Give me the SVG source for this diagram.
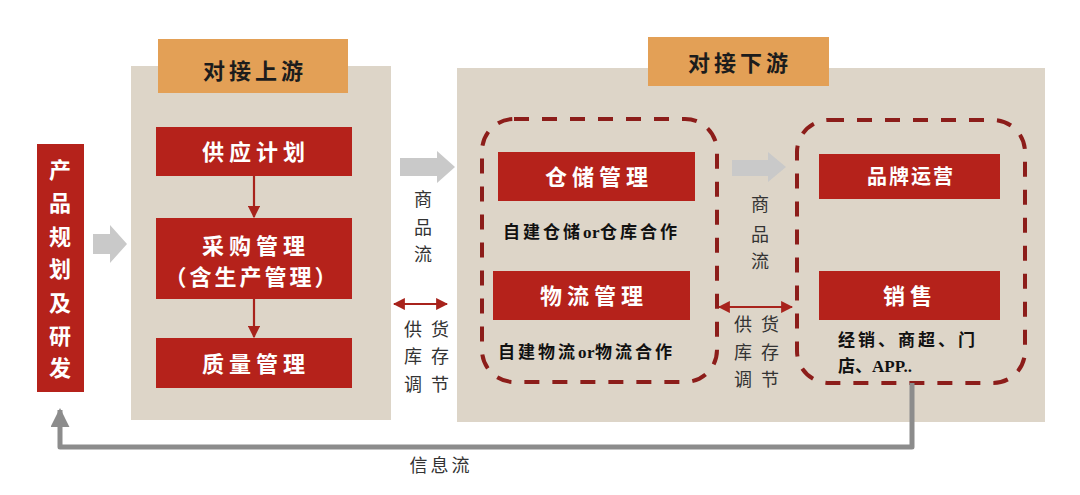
<svg xmlns="http://www.w3.org/2000/svg" width="1080" height="495" viewBox="0 0 1080 495">
  <defs>
    <style>
      .panel { fill: #ddd5c8; }
      .tag { fill: #e3a056; }
      .red { fill: #b5221b; }
      .dash { fill: none; stroke: #8c1d1a; stroke-width: 4; stroke-dasharray: 15 13; }
      .gray-arrow { fill: #c9c9c9; }
      .tagtxt { font-family: "Liberation Serif", "Noto Sans CJK SC", serif; font-weight: bold; font-size: 22px; fill: #1c1c1c; text-anchor: middle; dominant-baseline: central; letter-spacing: 4px; }
      .wtxt { font-family: "Liberation Serif", "Noto Sans CJK SC", serif; font-weight: bold; font-size: 22px; fill: #ffffff; text-anchor: middle; dominant-baseline: central; letter-spacing: 5px; }
      .btxt { font-family: "Liberation Serif", "Noto Sans CJK SC", serif; font-weight: bold; font-size: 17px; fill: #111111; dominant-baseline: central; }
      .ltxt { font-family: "Liberation Serif", "Noto Sans CJK SC", serif; font-size: 18px; fill: #333333; text-anchor: middle; dominant-baseline: central; }
      .tight { letter-spacing: 0.5px; }
    </style>
    <marker id="redhead" viewBox="0 0 10 10" refX="9" refY="5" markerWidth="5.5" markerHeight="5.5" orient="auto-start-reverse" markerUnits="strokeWidth">
      <path d="M0,0 L10,5 L0,10 Z" fill="#a8231c"/>
    </marker>
    <marker id="grayhead" viewBox="0 0 10 10" refX="9" refY="5" markerWidth="3.8" markerHeight="3.8" orient="auto" markerUnits="strokeWidth">
      <path d="M0,0 L10,5 L0,10 Z" fill="#8c8c8c"/>
    </marker>
  </defs>

  <rect x="0" y="0" width="1080" height="495" fill="#ffffff"/>

  <!-- panels -->
  <g id="panel-upstream">
    <rect class="panel" x="131" y="66" width="260" height="354"/>
    <rect class="tag" x="158" y="39" width="190" height="54"/>
    <text class="tagtxt" x="255" y="71">对接上游</text>
  </g>
  <g id="panel-downstream">
    <rect class="panel" x="457" y="68" width="588" height="354"/>
    <rect class="tag" x="648" y="37" width="181" height="49"/>
    <text class="tagtxt" x="740" y="63">对接下游</text>
  </g>

  <!-- product planning -->
  <g id="node-product">
    <rect class="red" x="37" y="144" width="47" height="248"/>
    <text class="wtxt" x="60" y="170" style="letter-spacing:0">产</text>
    <text class="wtxt" x="60" y="203" style="letter-spacing:0">品</text>
    <text class="wtxt" x="60" y="237" style="letter-spacing:0">规</text>
    <text class="wtxt" x="60" y="269" style="letter-spacing:0">划</text>
    <text class="wtxt" x="60" y="303" style="letter-spacing:0">及</text>
    <text class="wtxt" x="60" y="336" style="letter-spacing:0">研</text>
    <text class="wtxt" x="60" y="368" style="letter-spacing:0">发</text>
  </g>

  <g id="node-supply-plan">
    <rect class="red" x="156" y="127" width="196" height="49"/>
    <text class="wtxt" x="256" y="152">供应计划</text>
  </g>
  <g id="node-purchase">
    <rect class="red" x="156" y="218" width="196" height="81"/>
    <text class="wtxt" x="256" y="246">采购管理</text>
    <text class="wtxt" x="252" y="277" style="letter-spacing:3px">（含生产管理）</text>
  </g>
  <g id="node-quality">
    <rect class="red" x="156" y="338" width="196" height="50"/>
    <text class="wtxt" x="256" y="364">质量管理</text>
  </g>

  <!-- downstream groups -->
  <g id="group-warehouse-logistics">
    <rect class="dash" x="482" y="119" width="235" height="263" rx="32" ry="32"/>
  </g>
  <g id="node-warehouse">
    <rect class="red" x="498" y="152" width="197" height="49"/>
    <text class="wtxt" x="599" y="177">仓储管理</text>
    <text class="btxt" x="503" y="232" style="letter-spacing:3px">自建仓储<tspan class="tight">or</tspan>仓库合作</text>
  </g>
  <g id="node-logistics">
    <rect class="red" x="493" y="271" width="197" height="49"/>
    <text class="wtxt" x="594" y="296">物流管理</text>
    <text class="btxt" x="498" y="352" style="letter-spacing:3px">自建物流<tspan class="tight">or</tspan>物流合作</text>
  </g>

  <g id="group-brand-sales">
    <rect class="dash" x="797" y="120" width="228" height="263" rx="32" ry="32"/>
  </g>
  <g id="node-brand">
    <rect class="red" x="819" y="154" width="181" height="45"/>
    <text class="wtxt" x="911" y="177" style="font-size:20px;letter-spacing:2px">品牌运营</text>
  </g>
  <g id="node-sales">
    <rect class="red" x="819" y="271" width="181" height="49"/>
    <text class="wtxt" x="910" y="296">销售</text>
    <text class="btxt" x="838" y="340" style="letter-spacing:3px">经销、商超、门</text>
    <text class="btxt" x="838" y="366">店、APP..</text>
  </g>

  <!-- connectors -->
  <g id="connectors">
    <!-- gray block arrows -->
    <path class="gray-arrow" d="M93,234 L110,234 L110,225 L127,244 L110,263 L110,254 L93,254 Z"/>
    <path class="gray-arrow" d="M400,158 L437,158 L437,151 L455,167 L437,183 L437,176 L400,176 Z"/>
    <path class="gray-arrow" d="M732,160 L768,160 L768,152 L786,167 L768,182 L768,176 L732,176 Z"/>

    <!-- red arrows inside upstream -->
    <line x1="254" y1="176" x2="254" y2="217" stroke="#a8231c" stroke-width="2.2" marker-end="url(#redhead)"/>
    <line x1="254" y1="299" x2="254" y2="337" stroke="#a8231c" stroke-width="2.2" marker-end="url(#redhead)"/>

    <!-- double arrows -->
    <line x1="394" y1="304" x2="447" y2="304" stroke="#a8231c" stroke-width="2.2" marker-start="url(#redhead)" marker-end="url(#redhead)"/>
    <line x1="719" y1="307" x2="792" y2="307" stroke="#a8231c" stroke-width="2.2" marker-start="url(#redhead)" marker-end="url(#redhead)"/>

    <!-- info flow -->
    <polyline points="912,383 912,447 60,447 60,410" fill="none" stroke="#8c8c8c" stroke-width="5" stroke-linejoin="round" marker-end="url(#grayhead)"/>

    <!-- labels -->
    <text class="ltxt" x="423" y="200">商</text>
    <text class="ltxt" x="423" y="228">品</text>
    <text class="ltxt" x="423" y="255">流</text>
    <text class="ltxt" x="413" y="330">供</text>
    <text class="ltxt" x="440" y="330">货</text>
    <text class="ltxt" x="413" y="357">库</text>
    <text class="ltxt" x="440" y="357">存</text>
    <text class="ltxt" x="413" y="385">调</text>
    <text class="ltxt" x="440" y="385">节</text>

    <text class="ltxt" x="760" y="205">商</text>
    <text class="ltxt" x="760" y="235">品</text>
    <text class="ltxt" x="760" y="262">流</text>
    <text class="ltxt" x="743" y="325">供</text>
    <text class="ltxt" x="770" y="325">货</text>
    <text class="ltxt" x="743" y="353">库</text>
    <text class="ltxt" x="770" y="353">存</text>
    <text class="ltxt" x="743" y="380">调</text>
    <text class="ltxt" x="770" y="380">节</text>

    <text class="ltxt" x="441" y="466" style="letter-spacing:3px">信息流</text>
  </g>
</svg>
